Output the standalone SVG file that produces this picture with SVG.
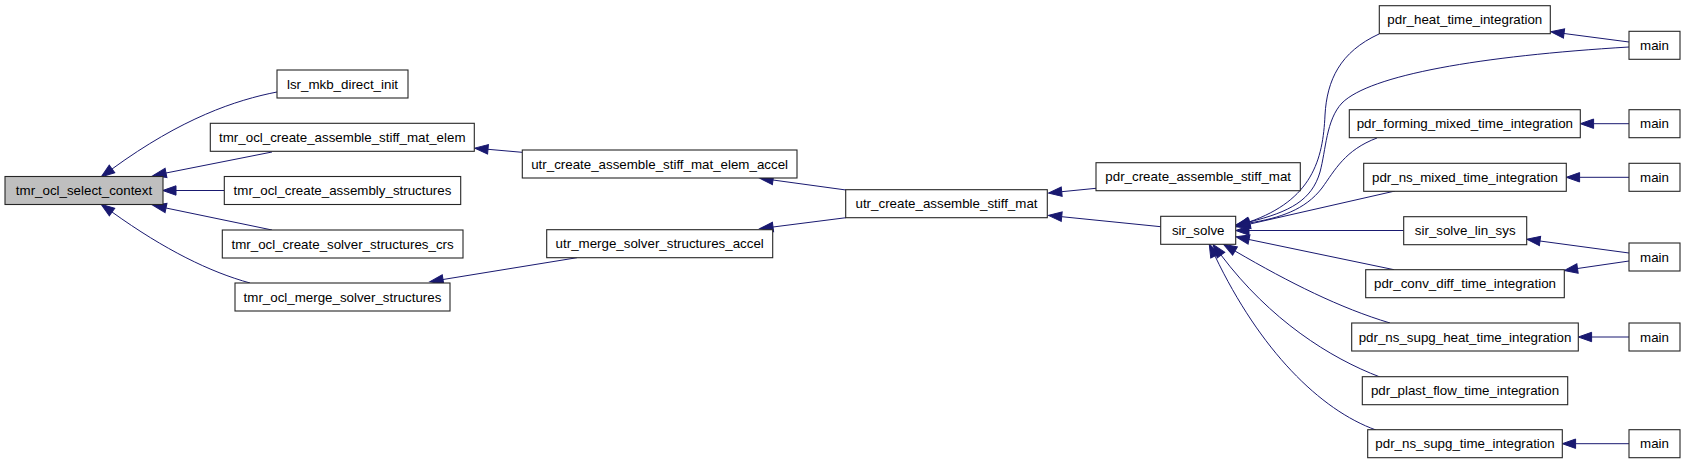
<svg xmlns="http://www.w3.org/2000/svg" width="1685" height="464" viewBox="0 0 1685 464">
<style>
.n rect{fill:#ffffff;stroke:#262626;stroke-width:1.1}
.n.root rect{fill:#bfbfbf}
.n text{font-family:"Liberation Sans",Arial,sans-serif;font-size:13.33px;fill:#000;text-anchor:middle}
.e path{fill:none;stroke:#191970;stroke-width:1;marker-start:url(#ah)}
</style>
<defs>
<marker id="ah" markerUnits="userSpaceOnUse" markerWidth="16" markerHeight="12" viewBox="0 -6 16 12" refX="0" refY="0" orient="auto-start-reverse" overflow="visible">
<path d="M0,-4.7 L13.3,0 L0,4.7 Z" fill="#191970" stroke="#191970" stroke-width="1"/>
</marker>
</defs>
<rect width="1685" height="464" fill="#ffffff"/>
<g id="edges" class="e">
<path d="M112,169 C182,118 236,100 277,92"/>
<path d="M166,173 L272,152"/>
<path d="M176,190.5 L224,190.5"/>
<path d="M166,208 L272,230"/>
<path d="M112,212 C165,250 210,272 250,283"/>
<path d="M488,149.3 L522,152.3"/>
<path d="M773,180 L846,190"/>
<path d="M773,227 L846,217.7"/>
<path d="M443,279.5 L577,257.7"/>
<path d="M1061.7,191.7 L1096,188.3"/>
<path d="M1061.7,216.7 L1160.7,226.7"/>
<path d="M1249,222 C1312,200 1323,160 1325,115 C1327,80 1340,52 1379,34"/>
<path d="M1249,222 C1290,212 1312,200 1320,172 C1326,150 1326,120 1342,103 C1370,75 1480,56 1629,47"/>
<path d="M1249,223 C1280,218 1305,210 1322,188 C1335,170 1345,150 1377,138"/>
<path d="M1250,224 L1395,191"/>
<path d="M1249,230.5 L1403.7,230.5"/>
<path d="M1249,239.5 L1394,269.7"/>
<path d="M1235,251 C1290,283 1340,308 1390,323"/>
<path d="M1221,255 C1270,320 1330,358 1380,377"/>
<path d="M1215,256 C1260,350 1320,410 1376,430"/>
<path d="M1564,33.5 L1629,42"/>
<path d="M1593.6,123.7 L1629,123.7"/>
<path d="M1579.6,177.3 L1629,177.3"/>
<path d="M1540,241 L1629,253"/>
<path d="M1577.5,268.5 L1629,261"/>
<path d="M1591.6,337 L1629,337"/>
<path d="M1575.6,443.7 L1629,443.7"/>
</g>
<g id="n_root" class="n root"><rect x="5" y="176.5" width="158" height="28"/><text x="84" y="195.2">tmr_ocl_select_context</text></g>
<g id="n_lsr" class="n"><rect x="277" y="70" width="131" height="28"/><text x="342.5" y="88.7">lsr_mkb_direct_init</text></g>
<g id="n_tmr_elem" class="n"><rect x="210.3" y="123.3" width="264" height="28"/><text x="342.3" y="142">tmr_ocl_create_assemble_stiff_mat_elem</text></g>
<g id="n_tmr_assembly" class="n"><rect x="224.3" y="176.5" width="236.4" height="28"/><text x="342.5" y="195.2">tmr_ocl_create_assembly_structures</text></g>
<g id="n_tmr_crs" class="n"><rect x="222.3" y="230" width="240.7" height="28"/><text x="342.6" y="248.7">tmr_ocl_create_solver_structures_crs</text></g>
<g id="n_tmr_merge" class="n"><rect x="235" y="283" width="215" height="28"/><text x="342.5" y="301.7">tmr_ocl_merge_solver_structures</text></g>
<g id="n_utr_elem_accel" class="n"><rect x="522.3" y="150" width="274.7" height="28"/><text x="659.6" y="168.7">utr_create_assemble_stiff_mat_elem_accel</text></g>
<g id="n_utr_merge_accel" class="n"><rect x="546.7" y="229.7" width="226" height="28"/><text x="659.7" y="248.4">utr_merge_solver_structures_accel</text></g>
<g id="n_utr_stiff" class="n"><rect x="845.7" y="189.7" width="201.6" height="28"/><text x="946.5" y="208.4">utr_create_assemble_stiff_mat</text></g>
<g id="n_pdr_stiff" class="n"><rect x="1096" y="162.7" width="204.3" height="28"/><text x="1198.2" y="181.4">pdr_create_assemble_stiff_mat</text></g>
<g id="n_sir_solve" class="n"><rect x="1160.7" y="216.3" width="75" height="28"/><text x="1198.2" y="235">sir_solve</text></g>
<g id="n_heat" class="n"><rect x="1379.3" y="5.7" width="171" height="28"/><text x="1464.8" y="24.4">pdr_heat_time_integration</text></g>
<g id="n_forming" class="n"><rect x="1349.3" y="109.7" width="231" height="28"/><text x="1464.8" y="128.4">pdr_forming_mixed_time_integration</text></g>
<g id="n_ns_mixed" class="n"><rect x="1363.7" y="163.3" width="202.6" height="28"/><text x="1465" y="182">pdr_ns_mixed_time_integration</text></g>
<g id="n_lin_sys" class="n"><rect x="1403.7" y="216.7" width="123" height="28"/><text x="1465.2" y="235.4">sir_solve_lin_sys</text></g>
<g id="n_conv_diff" class="n"><rect x="1365.7" y="269.7" width="198.6" height="28"/><text x="1465" y="288.4">pdr_conv_diff_time_integration</text></g>
<g id="n_supg_heat" class="n"><rect x="1351.7" y="323" width="226.6" height="28"/><text x="1465" y="341.7">pdr_ns_supg_heat_time_integration</text></g>
<g id="n_plast" class="n"><rect x="1362.3" y="376.7" width="205.4" height="28"/><text x="1465" y="395.4">pdr_plast_flow_time_integration</text></g>
<g id="n_supg" class="n"><rect x="1367.7" y="429.7" width="194.6" height="28"/><text x="1465" y="448.4">pdr_ns_supg_time_integration</text></g>
<g id="n_main1" class="n"><rect x="1629" y="31.3" width="51" height="28"/><text x="1654.5" y="50">main</text></g>
<g id="n_main2" class="n"><rect x="1629" y="109.7" width="51" height="28"/><text x="1654.5" y="128.4">main</text></g>
<g id="n_main3" class="n"><rect x="1629" y="163.3" width="51" height="28"/><text x="1654.5" y="182">main</text></g>
<g id="n_main4" class="n"><rect x="1629" y="243" width="51" height="28"/><text x="1654.5" y="261.7">main</text></g>
<g id="n_main5" class="n"><rect x="1629" y="323" width="51" height="28"/><text x="1654.5" y="341.7">main</text></g>
<g id="n_main6" class="n"><rect x="1629" y="429.7" width="51" height="28"/><text x="1654.5" y="448.4">main</text></g>
</svg>
